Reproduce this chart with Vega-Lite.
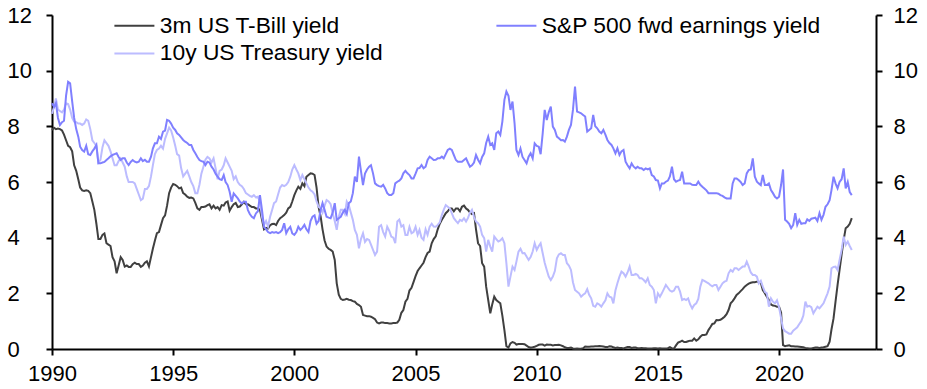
{
"$schema":"https://vega.github.io/schema/vega-lite/v6.json",
"width":824,"height":334,
"autosize":{"type":"none"},
"padding":{"left":52,"top":15,"right":51,"bottom":40},
"background":"white",
"config":{"view":{"stroke":null},"font":"Liberation Sans"},
"data":{"values":[
{"d":"1990-01","b":7.87,"t":8.45,"e":8.83},
{"d":"1990-02","b":7.95,"t":8.7,"e":8.7},
{"d":"1990-03","b":7.9,"t":9.0,"e":8.83},
{"d":"1990-04","b":7.92,"t":8.6,"e":8.3},
{"d":"1990-05","b":7.9,"t":8.55,"e":8.05},
{"d":"1990-06","b":7.85,"t":8.5,"e":8.15},
{"d":"1990-07","b":7.7,"t":8.6,"e":8.2},
{"d":"1990-08","b":7.5,"t":8.83,"e":9.1},
{"d":"1990-09","b":7.3,"t":8.8,"e":9.6},
{"d":"1990-10","b":7.25,"t":8.6,"e":9.55},
{"d":"1990-11","b":7.1,"t":8.3,"e":8.9},
{"d":"1990-12","b":6.6,"t":8.17,"e":8.3},
{"d":"1991-01","b":6.4,"t":8.15,"e":7.9},
{"d":"1991-02","b":6.1,"t":8.1,"e":7.63},
{"d":"1991-03","b":5.8,"t":8.1,"e":7.27},
{"d":"1991-04","b":5.7,"t":8.05,"e":7.15},
{"d":"1991-05","b":5.68,"t":8.1,"e":7.09},
{"d":"1991-06","b":5.7,"t":8.25,"e":7.3},
{"d":"1991-07","b":5.68,"t":8.2,"e":7.0},
{"d":"1991-08","b":5.6,"t":7.9,"e":6.97},
{"d":"1991-09","b":5.3,"t":7.5,"e":7.1},
{"d":"1991-10","b":5.0,"t":7.4,"e":7.2},
{"d":"1991-11","b":4.5,"t":7.3,"e":7.33},
{"d":"1991-12","b":3.95,"t":6.7,"e":6.67},
{"d":"1992-01","b":3.95,"t":6.8,"e":6.67},
{"d":"1992-02","b":4.1,"t":7.25,"e":6.7},
{"d":"1992-03","b":4.15,"t":7.5,"e":6.72},
{"d":"1992-04","b":3.8,"t":7.4,"e":6.79},
{"d":"1992-05","b":3.75,"t":7.3,"e":6.85},
{"d":"1992-06","b":3.7,"t":7.1,"e":6.92},
{"d":"1992-07","b":3.3,"t":6.85,"e":6.97},
{"d":"1992-08","b":3.15,"t":6.6,"e":7.0},
{"d":"1992-09","b":2.72,"t":6.6,"e":7.03},
{"d":"1992-10","b":3.0,"t":6.75,"e":6.9},
{"d":"1992-11","b":3.3,"t":6.85,"e":6.79},
{"d":"1992-12","b":3.2,"t":6.7,"e":6.85},
{"d":"1993-01","b":2.96,"t":6.55,"e":6.85},
{"d":"1993-02","b":3.0,"t":6.2,"e":6.7},
{"d":"1993-03","b":2.95,"t":6.0,"e":6.61},
{"d":"1993-04","b":2.95,"t":6.0,"e":6.72},
{"d":"1993-05","b":3.05,"t":6.0,"e":6.79},
{"d":"1993-06","b":3.1,"t":5.95,"e":6.73},
{"d":"1993-07","b":3.05,"t":5.75,"e":6.7},
{"d":"1993-08","b":3.05,"t":5.55,"e":6.73},
{"d":"1993-09","b":2.95,"t":5.35,"e":6.85},
{"d":"1993-10","b":3.0,"t":5.4,"e":6.75},
{"d":"1993-11","b":3.1,"t":5.75,"e":6.8},
{"d":"1993-12","b":3.15,"t":5.75,"e":6.73},
{"d":"1994-01","b":2.97,"t":5.85,"e":6.73},
{"d":"1994-02","b":3.3,"t":6.2,"e":6.91},
{"d":"1994-03","b":3.6,"t":6.6,"e":7.2},
{"d":"1994-04","b":3.9,"t":7.0,"e":7.39},
{"d":"1994-05","b":4.16,"t":7.15,"e":7.39},
{"d":"1994-06","b":4.2,"t":7.2,"e":7.63},
{"d":"1994-07","b":4.45,"t":7.3,"e":7.55},
{"d":"1994-08","b":4.7,"t":7.2,"e":7.81},
{"d":"1994-09","b":4.8,"t":7.55,"e":7.85},
{"d":"1994-10","b":5.15,"t":7.75,"e":8.23},
{"d":"1994-11","b":5.6,"t":7.95,"e":8.2},
{"d":"1994-12","b":5.8,"t":7.85,"e":8.1},
{"d":"1995-01","b":5.93,"t":7.6,"e":7.95},
{"d":"1995-02","b":5.9,"t":7.3,"e":7.87},
{"d":"1995-03","b":5.85,"t":7.0,"e":7.75},
{"d":"1995-04","b":5.77,"t":6.95,"e":7.69},
{"d":"1995-05","b":5.8,"t":6.5,"e":7.6},
{"d":"1995-06","b":5.6,"t":6.2,"e":7.51},
{"d":"1995-07","b":5.55,"t":6.3,"e":7.45},
{"d":"1995-08","b":5.47,"t":6.4,"e":7.4},
{"d":"1995-09","b":5.43,"t":6.2,"e":7.33},
{"d":"1995-10","b":5.44,"t":6.0,"e":7.33},
{"d":"1995-11","b":5.41,"t":5.85,"e":7.15},
{"d":"1995-12","b":5.25,"t":5.6,"e":7.03},
{"d":"1996-01","b":5.05,"t":5.6,"e":6.9},
{"d":"1996-02","b":5.0,"t":5.9,"e":6.79},
{"d":"1996-03","b":5.1,"t":6.3,"e":6.75},
{"d":"1996-04","b":5.1,"t":6.55,"e":6.73},
{"d":"1996-05","b":5.12,"t":6.8,"e":6.61},
{"d":"1996-06","b":5.17,"t":6.9,"e":6.73},
{"d":"1996-07","b":5.2,"t":6.85,"e":6.7},
{"d":"1996-08","b":5.05,"t":6.7,"e":6.55},
{"d":"1996-09","b":5.15,"t":6.85,"e":6.45},
{"d":"1996-10","b":5.05,"t":6.5,"e":6.3},
{"d":"1996-11","b":5.1,"t":6.1,"e":6.19},
{"d":"1996-12","b":5.0,"t":6.4,"e":6.1},
{"d":"1997-01","b":5.17,"t":6.45,"e":6.07},
{"d":"1997-02","b":5.15,"t":6.6,"e":6.25},
{"d":"1997-03","b":5.26,"t":6.85,"e":6.0},
{"d":"1997-04","b":5.3,"t":6.7,"e":5.89},
{"d":"1997-05","b":4.97,"t":6.55,"e":5.65},
{"d":"1997-06","b":5.1,"t":6.4,"e":5.29},
{"d":"1997-07","b":5.2,"t":6.1,"e":5.59},
{"d":"1997-08","b":5.25,"t":6.2,"e":5.5},
{"d":"1997-09","b":5.1,"t":6.0,"e":5.41},
{"d":"1997-10","b":5.12,"t":5.9,"e":5.3},
{"d":"1997-11","b":5.2,"t":5.85,"e":5.23},
{"d":"1997-12","b":5.29,"t":5.75,"e":5.29},
{"d":"1998-01","b":5.2,"t":5.6,"e":5.29},
{"d":"1998-02","b":5.2,"t":5.55,"e":4.99},
{"d":"1998-03","b":5.15,"t":5.5,"e":4.85},
{"d":"1998-04","b":5.1,"t":5.47,"e":4.75},
{"d":"1998-05","b":5.1,"t":5.53,"e":4.7},
{"d":"1998-06","b":5.05,"t":5.45,"e":4.87},
{"d":"1998-07","b":5.05,"t":5.47,"e":4.95},
{"d":"1998-08","b":5.0,"t":5.3,"e":5.53},
{"d":"1998-09","b":4.64,"t":4.75,"e":4.99},
{"d":"1998-10","b":4.3,"t":4.46,"e":4.39},
{"d":"1998-11","b":4.35,"t":4.6,"e":4.3},
{"d":"1998-12","b":4.33,"t":4.4,"e":4.2},
{"d":"1999-01","b":4.45,"t":4.75,"e":4.16},
{"d":"1999-02","b":4.49,"t":5.0,"e":4.2},
{"d":"1999-03","b":4.5,"t":5.24,"e":4.18},
{"d":"1999-04","b":4.45,"t":5.3,"e":4.2},
{"d":"1999-05","b":4.6,"t":5.55,"e":4.16},
{"d":"1999-06","b":4.7,"t":5.8,"e":4.2},
{"d":"1999-07","b":4.75,"t":5.89,"e":4.28},
{"d":"1999-08","b":4.81,"t":5.85,"e":4.52},
{"d":"1999-09","b":4.9,"t":5.9,"e":4.16},
{"d":"1999-10","b":5.05,"t":6.0,"e":4.3},
{"d":"1999-11","b":5.11,"t":6.19,"e":4.39},
{"d":"1999-12","b":5.3,"t":6.45,"e":4.15},
{"d":"2000-01","b":5.53,"t":6.61,"e":4.1},
{"d":"2000-02","b":5.7,"t":6.45,"e":4.2},
{"d":"2000-03","b":5.83,"t":6.31,"e":4.39},
{"d":"2000-04","b":5.75,"t":6.07,"e":4.28},
{"d":"2000-05","b":5.95,"t":6.25,"e":4.35},
{"d":"2000-06","b":5.85,"t":6.1,"e":4.46},
{"d":"2000-07","b":6.19,"t":5.95,"e":4.3},
{"d":"2000-08","b":6.25,"t":5.8,"e":4.2},
{"d":"2000-09","b":6.31,"t":5.7,"e":4.6},
{"d":"2000-10","b":6.3,"t":5.65,"e":4.75},
{"d":"2000-11","b":6.25,"t":5.55,"e":4.8},
{"d":"2000-12","b":5.8,"t":5.3,"e":4.5},
{"d":"2001-01","b":5.1,"t":5.11,"e":4.6},
{"d":"2001-02","b":4.75,"t":5.05,"e":5.0},
{"d":"2001-03","b":4.3,"t":4.9,"e":5.24},
{"d":"2001-04","b":3.9,"t":5.15,"e":5.0},
{"d":"2001-05","b":3.68,"t":5.35,"e":4.75},
{"d":"2001-06","b":3.6,"t":5.3,"e":4.72},
{"d":"2001-07","b":3.56,"t":5.2,"e":4.7},
{"d":"2001-08","b":3.5,"t":4.88,"e":4.9},
{"d":"2001-09","b":3.2,"t":4.6,"e":5.24},
{"d":"2001-10","b":2.36,"t":4.28,"e":4.64},
{"d":"2001-11","b":1.95,"t":4.75,"e":4.7},
{"d":"2001-12","b":1.8,"t":5.0,"e":4.75},
{"d":"2002-01","b":1.76,"t":5.0,"e":4.9},
{"d":"2002-02","b":1.78,"t":4.85,"e":5.0},
{"d":"2002-03","b":1.8,"t":5.3,"e":4.85},
{"d":"2002-04","b":1.77,"t":5.17,"e":5.24},
{"d":"2002-05","b":1.76,"t":4.9,"e":5.3},
{"d":"2002-06","b":1.72,"t":4.64,"e":5.6},
{"d":"2002-07","b":1.7,"t":4.28,"e":6.19},
{"d":"2002-08","b":1.62,"t":4.1,"e":6.0},
{"d":"2002-09","b":1.58,"t":3.62,"e":6.91},
{"d":"2002-10","b":1.52,"t":3.95,"e":6.4},
{"d":"2002-11","b":1.22,"t":4.16,"e":5.89},
{"d":"2002-12","b":1.2,"t":3.85,"e":6.3},
{"d":"2003-01","b":1.18,"t":3.95,"e":6.45},
{"d":"2003-02","b":1.18,"t":3.92,"e":6.55},
{"d":"2003-03","b":1.16,"t":3.75,"e":6.6},
{"d":"2003-04","b":1.12,"t":3.56,"e":6.31},
{"d":"2003-05","b":1.07,"t":3.38,"e":5.95},
{"d":"2003-06","b":0.95,"t":3.5,"e":5.89},
{"d":"2003-07","b":0.92,"t":4.39,"e":5.85},
{"d":"2003-08","b":0.95,"t":4.45,"e":5.83},
{"d":"2003-09","b":0.95,"t":4.2,"e":5.9},
{"d":"2003-10","b":0.93,"t":4.04,"e":5.77},
{"d":"2003-11","b":0.93,"t":4.39,"e":5.6},
{"d":"2003-12","b":0.92,"t":4.25,"e":5.53},
{"d":"2004-01","b":0.92,"t":4.04,"e":5.53},
{"d":"2004-02","b":0.93,"t":4.0,"e":5.6},
{"d":"2004-03","b":0.93,"t":3.8,"e":5.95},
{"d":"2004-04","b":0.95,"t":4.58,"e":6.01},
{"d":"2004-05","b":1.05,"t":4.65,"e":6.05},
{"d":"2004-06","b":1.3,"t":4.4,"e":6.13},
{"d":"2004-07","b":1.4,"t":4.45,"e":6.31},
{"d":"2004-08","b":1.7,"t":4.1,"e":6.4},
{"d":"2004-09","b":1.8,"t":4.1,"e":6.31},
{"d":"2004-10","b":2.1,"t":4.39,"e":6.25},
{"d":"2004-11","b":2.2,"t":4.16,"e":6.13},
{"d":"2004-12","b":2.4,"t":4.2,"e":6.13},
{"d":"2005-01","b":2.62,"t":4.39,"e":6.3},
{"d":"2005-02","b":2.8,"t":4.1,"e":6.49},
{"d":"2005-03","b":2.9,"t":4.28,"e":6.5},
{"d":"2005-04","b":3.0,"t":4.0,"e":6.61},
{"d":"2005-05","b":3.1,"t":3.92,"e":6.49},
{"d":"2005-06","b":3.3,"t":4.3,"e":6.55},
{"d":"2005-07","b":3.45,"t":4.1,"e":6.79},
{"d":"2005-08","b":3.5,"t":4.39,"e":6.91},
{"d":"2005-09","b":3.8,"t":4.5,"e":6.85},
{"d":"2005-10","b":3.95,"t":4.4,"e":6.79},
{"d":"2005-11","b":4.05,"t":4.39,"e":6.8},
{"d":"2005-12","b":4.3,"t":4.46,"e":6.85},
{"d":"2006-01","b":4.5,"t":4.55,"e":6.85},
{"d":"2006-02","b":4.64,"t":4.81,"e":6.91},
{"d":"2006-03","b":4.75,"t":5.0,"e":6.85},
{"d":"2006-04","b":4.88,"t":5.17,"e":7.0},
{"d":"2006-05","b":4.95,"t":5.11,"e":7.15},
{"d":"2006-06","b":5.05,"t":5.05,"e":7.2},
{"d":"2006-07","b":5.05,"t":4.88,"e":7.15},
{"d":"2006-08","b":4.95,"t":4.7,"e":6.97},
{"d":"2006-09","b":5.05,"t":4.6,"e":6.79},
{"d":"2006-10","b":5.05,"t":4.52,"e":6.73},
{"d":"2006-11","b":4.95,"t":4.64,"e":6.73},
{"d":"2006-12","b":5.11,"t":4.6,"e":6.73},
{"d":"2007-01","b":5.15,"t":4.7,"e":6.79},
{"d":"2007-02","b":5.05,"t":4.58,"e":6.85},
{"d":"2007-03","b":5.0,"t":4.7,"e":6.7},
{"d":"2007-04","b":4.9,"t":4.9,"e":6.55},
{"d":"2007-05","b":4.85,"t":5.0,"e":6.6},
{"d":"2007-06","b":4.88,"t":4.75,"e":6.7},
{"d":"2007-07","b":4.3,"t":4.58,"e":6.97},
{"d":"2007-08","b":3.8,"t":4.52,"e":6.8},
{"d":"2007-09","b":3.7,"t":4.4,"e":6.67},
{"d":"2007-10","b":3.08,"t":4.1,"e":6.9},
{"d":"2007-11","b":2.96,"t":3.98,"e":7.03},
{"d":"2007-12","b":2.24,"t":3.5,"e":7.4},
{"d":"2008-01","b":1.76,"t":3.92,"e":7.63},
{"d":"2008-02","b":1.28,"t":3.68,"e":7.33},
{"d":"2008-03","b":1.6,"t":3.5,"e":7.39},
{"d":"2008-04","b":1.88,"t":4.04,"e":7.15},
{"d":"2008-05","b":1.76,"t":3.95,"e":7.75},
{"d":"2008-06","b":1.7,"t":3.86,"e":7.81},
{"d":"2008-07","b":1.64,"t":3.9,"e":7.69},
{"d":"2008-08","b":1.2,"t":3.98,"e":8.17},
{"d":"2008-09","b":0.68,"t":3.8,"e":8.95},
{"d":"2008-10","b":0.1,"t":3.08,"e":9.25},
{"d":"2008-11","b":0.05,"t":2.24,"e":9.1},
{"d":"2008-12","b":0.2,"t":2.6,"e":8.59},
{"d":"2009-01","b":0.25,"t":2.96,"e":8.89},
{"d":"2009-02","b":0.22,"t":2.84,"e":8.11},
{"d":"2009-03","b":0.16,"t":3.14,"e":7.15},
{"d":"2009-04","b":0.18,"t":3.5,"e":6.97},
{"d":"2009-05","b":0.18,"t":3.6,"e":7.2},
{"d":"2009-06","b":0.18,"t":3.44,"e":6.9},
{"d":"2009-07","b":0.17,"t":3.45,"e":6.79},
{"d":"2009-08","b":0.12,"t":3.32,"e":6.67},
{"d":"2009-09","b":0.07,"t":3.2,"e":6.91},
{"d":"2009-10","b":0.05,"t":3.3,"e":7.03},
{"d":"2009-11","b":0.06,"t":3.5,"e":6.85},
{"d":"2009-12","b":0.08,"t":3.8,"e":7.39},
{"d":"2010-01","b":0.11,"t":3.56,"e":7.3},
{"d":"2010-02","b":0.15,"t":3.7,"e":7.27},
{"d":"2010-03","b":0.16,"t":3.8,"e":7.0},
{"d":"2010-04","b":0.16,"t":3.44,"e":7.75},
{"d":"2010-05","b":0.12,"t":3.1,"e":8.59},
{"d":"2010-06","b":0.16,"t":2.84,"e":8.23},
{"d":"2010-07","b":0.15,"t":2.6,"e":8.5},
{"d":"2010-08","b":0.15,"t":2.48,"e":8.71},
{"d":"2010-09","b":0.13,"t":2.6,"e":7.99},
{"d":"2010-10","b":0.14,"t":2.8,"e":7.87},
{"d":"2010-11","b":0.14,"t":3.26,"e":7.63},
{"d":"2010-12","b":0.15,"t":3.4,"e":7.57},
{"d":"2011-01","b":0.13,"t":3.44,"e":7.5},
{"d":"2011-02","b":0.1,"t":3.38,"e":7.51},
{"d":"2011-03","b":0.06,"t":3.38,"e":7.45},
{"d":"2011-04","b":0.04,"t":3.08,"e":7.63},
{"d":"2011-05","b":0.04,"t":3.0,"e":7.87},
{"d":"2011-06","b":0.05,"t":2.84,"e":8.05},
{"d":"2011-07","b":0.02,"t":2.4,"e":8.59},
{"d":"2011-08","b":0.01,"t":2.12,"e":9.43},
{"d":"2011-09","b":0.02,"t":2.06,"e":8.53},
{"d":"2011-10","b":0.01,"t":2.0,"e":8.5},
{"d":"2011-11","b":0.01,"t":1.88,"e":8.47},
{"d":"2011-12","b":0.03,"t":1.95,"e":8.41},
{"d":"2012-01","b":0.09,"t":2.0,"e":8.35},
{"d":"2012-02","b":0.08,"t":2.15,"e":7.81},
{"d":"2012-03","b":0.08,"t":1.95,"e":7.87},
{"d":"2012-04","b":0.09,"t":1.82,"e":7.93},
{"d":"2012-05","b":0.09,"t":1.55,"e":8.41},
{"d":"2012-06","b":0.1,"t":1.52,"e":8.0},
{"d":"2012-07","b":0.1,"t":1.64,"e":7.93},
{"d":"2012-08","b":0.11,"t":1.6,"e":7.81},
{"d":"2012-09","b":0.1,"t":1.52,"e":7.75},
{"d":"2012-10","b":0.09,"t":1.64,"e":7.87},
{"d":"2012-11","b":0.07,"t":1.75,"e":7.7},
{"d":"2012-12","b":0.07,"t":2.0,"e":7.51},
{"d":"2013-01","b":0.1,"t":1.88,"e":7.4},
{"d":"2013-02","b":0.09,"t":1.85,"e":7.33},
{"d":"2013-03","b":0.06,"t":1.64,"e":7.21},
{"d":"2013-04","b":0.04,"t":2.1,"e":7.03},
{"d":"2013-05","b":0.05,"t":2.36,"e":7.21},
{"d":"2013-06","b":0.04,"t":2.6,"e":6.97},
{"d":"2013-07","b":0.04,"t":2.78,"e":7.1},
{"d":"2013-08","b":0.02,"t":2.72,"e":7.15},
{"d":"2013-09","b":0.05,"t":2.6,"e":6.73},
{"d":"2013-10","b":0.07,"t":2.75,"e":6.6},
{"d":"2013-11","b":0.07,"t":2.96,"e":6.49},
{"d":"2013-12","b":0.04,"t":2.66,"e":6.67},
{"d":"2014-01","b":0.05,"t":2.66,"e":6.55},
{"d":"2014-02","b":0.05,"t":2.7,"e":6.49},
{"d":"2014-03","b":0.03,"t":2.66,"e":6.55},
{"d":"2014-04","b":0.03,"t":2.54,"e":6.49},
{"d":"2014-05","b":0.04,"t":2.54,"e":6.49},
{"d":"2014-06","b":0.03,"t":2.48,"e":6.43},
{"d":"2014-07","b":0.03,"t":2.4,"e":6.49},
{"d":"2014-08","b":0.02,"t":2.54,"e":6.45},
{"d":"2014-09","b":0.02,"t":2.3,"e":6.49},
{"d":"2014-10","b":0.02,"t":2.24,"e":6.25},
{"d":"2014-11","b":0.03,"t":2.12,"e":6.2},
{"d":"2014-12","b":0.03,"t":1.64,"e":6.07},
{"d":"2015-01","b":0.02,"t":2.0,"e":6.05},
{"d":"2015-02","b":0.03,"t":1.88,"e":5.77},
{"d":"2015-03","b":0.02,"t":2.0,"e":5.95},
{"d":"2015-04","b":0.02,"t":2.15,"e":5.95},
{"d":"2015-05","b":0.02,"t":2.3,"e":6.01},
{"d":"2015-06","b":0.03,"t":2.2,"e":6.05},
{"d":"2015-07","b":0.07,"t":2.1,"e":6.2},
{"d":"2015-08","b":0.02,"t":2.06,"e":6.55},
{"d":"2015-09","b":0.02,"t":2.1,"e":6.1},
{"d":"2015-10","b":0.13,"t":2.24,"e":6.01},
{"d":"2015-11","b":0.23,"t":2.24,"e":6.05},
{"d":"2015-12","b":0.26,"t":2.06,"e":6.07},
{"d":"2016-01","b":0.3,"t":1.76,"e":6.37},
{"d":"2016-02","b":0.25,"t":1.8,"e":5.95},
{"d":"2016-03","b":0.25,"t":1.76,"e":5.95},
{"d":"2016-04","b":0.28,"t":1.82,"e":5.95},
{"d":"2016-05","b":0.3,"t":1.6,"e":5.95},
{"d":"2016-06","b":0.3,"t":1.46,"e":5.9},
{"d":"2016-07","b":0.38,"t":1.58,"e":5.89},
{"d":"2016-08","b":0.3,"t":1.64,"e":5.89},
{"d":"2016-09","b":0.35,"t":1.8,"e":6.01},
{"d":"2016-10","b":0.44,"t":2.24,"e":5.9},
{"d":"2016-11","b":0.5,"t":2.48,"e":5.83},
{"d":"2016-12","b":0.5,"t":2.45,"e":5.77},
{"d":"2017-01","b":0.52,"t":2.4,"e":5.7},
{"d":"2017-02","b":0.68,"t":2.36,"e":5.6},
{"d":"2017-03","b":0.78,"t":2.3,"e":5.6},
{"d":"2017-04","b":0.9,"t":2.25,"e":5.6},
{"d":"2017-05","b":0.92,"t":2.3,"e":5.6},
{"d":"2017-06","b":1.04,"t":2.3,"e":5.6},
{"d":"2017-07","b":1.03,"t":2.12,"e":5.58},
{"d":"2017-08","b":1.05,"t":2.24,"e":5.53},
{"d":"2017-09","b":1.1,"t":2.36,"e":5.5},
{"d":"2017-10","b":1.16,"t":2.42,"e":5.45},
{"d":"2017-11","b":1.25,"t":2.45,"e":5.41},
{"d":"2017-12","b":1.4,"t":2.72,"e":5.41},
{"d":"2018-01","b":1.64,"t":2.84,"e":5.41},
{"d":"2018-02","b":1.72,"t":2.78,"e":5.95},
{"d":"2018-03","b":1.82,"t":2.9,"e":6.13},
{"d":"2018-04","b":1.94,"t":2.9,"e":6.13},
{"d":"2018-05","b":2.0,"t":2.84,"e":6.07},
{"d":"2018-06","b":2.08,"t":2.9,"e":6.0},
{"d":"2018-07","b":2.15,"t":2.96,"e":5.89},
{"d":"2018-08","b":2.24,"t":2.96,"e":5.95},
{"d":"2018-09","b":2.3,"t":3.14,"e":6.31},
{"d":"2018-10","b":2.35,"t":2.96,"e":6.43},
{"d":"2018-11","b":2.38,"t":2.75,"e":6.45},
{"d":"2018-12","b":2.4,"t":2.66,"e":6.85},
{"d":"2019-01","b":2.4,"t":2.66,"e":6.19},
{"d":"2019-02","b":2.42,"t":2.6,"e":6.01},
{"d":"2019-03","b":2.42,"t":2.36,"e":5.95},
{"d":"2019-04","b":2.38,"t":2.45,"e":5.89},
{"d":"2019-05","b":2.12,"t":2.24,"e":6.25},
{"d":"2019-06","b":2.0,"t":2.05,"e":5.89},
{"d":"2019-07","b":1.88,"t":2.0,"e":5.89},
{"d":"2019-08","b":1.76,"t":1.52,"e":5.95},
{"d":"2019-09","b":1.6,"t":1.82,"e":5.71},
{"d":"2019-10","b":1.56,"t":1.7,"e":5.6},
{"d":"2019-11","b":1.55,"t":1.64,"e":5.47},
{"d":"2019-12","b":1.52,"t":1.75,"e":5.41},
{"d":"2020-01","b":1.52,"t":1.5,"e":5.47},
{"d":"2020-02","b":1.3,"t":1.1,"e":5.9},
{"d":"2020-03","b":0.14,"t":0.74,"e":6.45},
{"d":"2020-04","b":0.1,"t":0.64,"e":4.64},
{"d":"2020-05","b":0.12,"t":0.6,"e":4.58},
{"d":"2020-06","b":0.13,"t":0.55,"e":4.5},
{"d":"2020-07","b":0.1,"t":0.55,"e":4.34},
{"d":"2020-08","b":0.1,"t":0.66,"e":4.46},
{"d":"2020-09","b":0.09,"t":0.72,"e":4.88},
{"d":"2020-10","b":0.09,"t":0.78,"e":4.46},
{"d":"2020-11","b":0.08,"t":0.9,"e":4.64},
{"d":"2020-12","b":0.07,"t":1.0,"e":4.5},
{"d":"2021-01","b":0.06,"t":1.2,"e":4.52},
{"d":"2021-02","b":0.04,"t":1.7,"e":4.52},
{"d":"2021-03","b":0.03,"t":1.52,"e":4.66},
{"d":"2021-04","b":0.02,"t":1.55,"e":4.6},
{"d":"2021-05","b":0.02,"t":1.5,"e":4.68},
{"d":"2021-06","b":0.04,"t":1.28,"e":4.7},
{"d":"2021-07","b":0.05,"t":1.4,"e":4.72},
{"d":"2021-08","b":0.05,"t":1.52,"e":4.6},
{"d":"2021-09","b":0.04,"t":1.46,"e":4.88},
{"d":"2021-10","b":0.05,"t":1.55,"e":4.64},
{"d":"2021-11","b":0.06,"t":1.64,"e":4.82},
{"d":"2021-12","b":0.08,"t":1.82,"e":5.11},
{"d":"2022-01","b":0.1,"t":2.0,"e":5.2},
{"d":"2022-02","b":0.26,"t":2.24,"e":5.35},
{"d":"2022-03","b":0.7,"t":2.9,"e":5.71},
{"d":"2022-04","b":1.1,"t":2.95,"e":6.19},
{"d":"2022-05","b":1.7,"t":2.96,"e":5.95},
{"d":"2022-06","b":2.3,"t":2.84,"e":5.77},
{"d":"2022-07","b":2.84,"t":3.2,"e":6.0},
{"d":"2022-08","b":3.4,"t":3.56,"e":6.1},
{"d":"2022-09","b":3.92,"t":4.04,"e":6.49},
{"d":"2022-10","b":4.34,"t":3.74,"e":5.77},
{"d":"2022-11","b":4.4,"t":3.86,"e":6.0},
{"d":"2022-12","b":4.5,"t":3.7,"e":5.64},
{"d":"2023-01","b":4.7,"t":3.56,"e":5.53}
]},
"transform":[{"fold":["b","t","e"],"as":["s","v"]}],
"layer":[
{"mark":{"type":"line","strokeWidth":2},
 "encoding":{
  "x":{"field":"d","type":"temporal",
   "scale":{"type":"utc","domain":[{"year":1990,"month":1,"date":1,"utc":true},{"year":2024,"month":1,"date":1,"utc":true}]},
   "axis":{"format":"%Y","tickCount":{"interval":"year","step":5},"labelFlush":false,"labelOverlap":false,"title":null,"grid":false,"domainColor":"black","domainWidth":2,"tickColor":"black","tickWidth":2,"tickSize":6,"labelFontSize":22,"labelColor":"black","labelPadding":8,"labelFont":"Liberation Sans"}},
  "y":{"field":"v","type":"quantitative","scale":{"domain":[0,12],"nice":false},
   "axis":{"orient":"left","values":[0,2,4,6,8,10,12],"title":null,"grid":false,"domainColor":"black","domainWidth":2,"tickColor":"black","tickWidth":2,"tickSize":6,"labelFontSize":22,"labelColor":"black","labelAlign":"left","labelPadding":39,"labelFont":"Liberation Sans"}},
  "color":{"field":"s","type":"nominal",
   "scale":{"domain":["b","t","e"],"range":["#404040","#bcbcff","#8080ff"]},
   "legend":{"orient":"none","legendX":61,"legendY":-1,"columns":2,"columnPadding":108,"rowPadding":4,"symbolType":"M-1,0H3","symbolSize":400,"symbolStrokeWidth":2,"labelFontSize":22.8,"labelColor":"black","labelFont":"Liberation Sans","title":null,"padding":0,"labelOffset":24,"labelLimit":500,
     "labelExpr":"datum.value == 'b' ? '3m US T-Bill yield' : datum.value == 't' ? '10y US Treasury yield' : 'S&P 500 fwd earnings yield'"}}
 }},
{"mark":{"type":"line","opacity":0},
 "encoding":{
  "x":{"field":"d","type":"temporal",
   "axis":{"format":"%Y","tickCount":{"interval":"year","step":5},"labelFlush":false,"labelOverlap":false,"title":null,"grid":false,"domainColor":"black","domainWidth":2,"tickColor":"black","tickWidth":2,"tickSize":6,"labelFontSize":22,"labelColor":"black","labelPadding":8,"labelFont":"Liberation Sans"}},
  "y":{"field":"v","type":"quantitative",
   "axis":{"orient":"right","values":[0,2,4,6,8,10,12],"title":null,"grid":false,"domainColor":"black","domainWidth":2,"tickColor":"black","tickWidth":2,"tickSize":6,"labelFontSize":22,"labelColor":"black","labelAlign":"left","labelPadding":11,"labelFont":"Liberation Sans"}},
  "detail":{"field":"s"}
 }}
],
"resolve":{"axis":{"y":"independent"}}
}
